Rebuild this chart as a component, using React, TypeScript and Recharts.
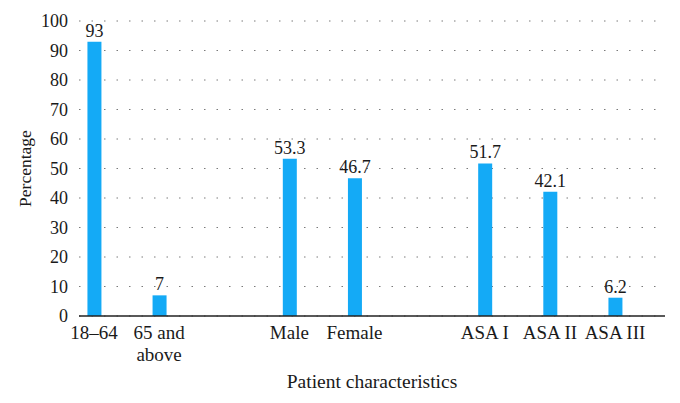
import React from "react";
import { BarChart, Bar, XAxis, YAxis, CartesianGrid, LabelList, Label, Text } from "recharts";

const categories = ["18–64", "65 and above", " ", "Male", "Female", "  ", "ASA I", "ASA II", "ASA III"];
const percentages: (number | null)[] = [93, 7, null, 53.3, 46.7, null, 51.7, 42.1, 6.2];
const yTicks = [0, 10, 20, 30, 40, 50, 60, 70, 80, 90, 100];

const data = categories.map((c, i) => ({ name: c, value: percentages[i] }));

const FONT = "'Liberation Serif', 'DejaVu Serif', serif";
const TEXT = "#1a1a1a";

const XTick = (props: any) => {
  const { x, y, payload } = props;
  return (
    <Text
      x={x}
      y={y}
      width={75}
      textAnchor="middle"
      verticalAnchor="start"
      lineHeight="1.16em"
      fontSize={19}
      fontFamily={FONT}
      fill={TEXT}
    >
      {payload.value}
    </Text>
  );
};

export default function App() {
  return (
    <div style={{ position: "absolute", left: 0, top: 0, background: "#fff" }}>
      <BarChart
        width={680}
        height={403}
        data={data}
        margin={{ top: 21, right: 15, bottom: 0, left: 0 }}
      >
        <CartesianGrid
          vertical={false}
          stroke="#7a7a7a"
          strokeDasharray="1.5 11"
        />
        <XAxis
          dataKey="name"
          height={87}
          padding={{ left: -17.56, right: 17.44 }}
          axisLine={{ stroke: "#222", strokeWidth: 1.5 }}
          tickLine={false}
          tickSize={0}
          tickMargin={9.5}
          interval={0}
          tick={<XTick />}
        >
          <Label
            value="Patient characteristics"
            position="insideBottom"
            offset={15}
            fontSize={19.5}
            fontFamily={FONT}
            fill={TEXT}
          />
        </XAxis>
        <YAxis
          width={79}
          domain={[0, 100]}
          ticks={yTicks}
          axisLine={false}
          tickLine={false}
          tickSize={0}
          tickMargin={11}
          tick={{ fontSize: 18, fontFamily: FONT, fill: TEXT }}
        >
          <Label
            value="Percentage"
            angle={-90}
            position="insideLeft"
            offset={25}
            fontSize={17.5}
            fontFamily={FONT}
            fill={TEXT}
            style={{ textAnchor: "middle" }}
          />
        </YAxis>
        <Bar dataKey="value" fill="#14aaf6" barSize={14} isAnimationActive={false}>
          <LabelList
            dataKey="value"
            position="top"
            offset={5}
            fontSize={18}
            fontFamily={FONT}
            fill={TEXT}
          />
        </Bar>
      </BarChart>
    </div>
  );
}
